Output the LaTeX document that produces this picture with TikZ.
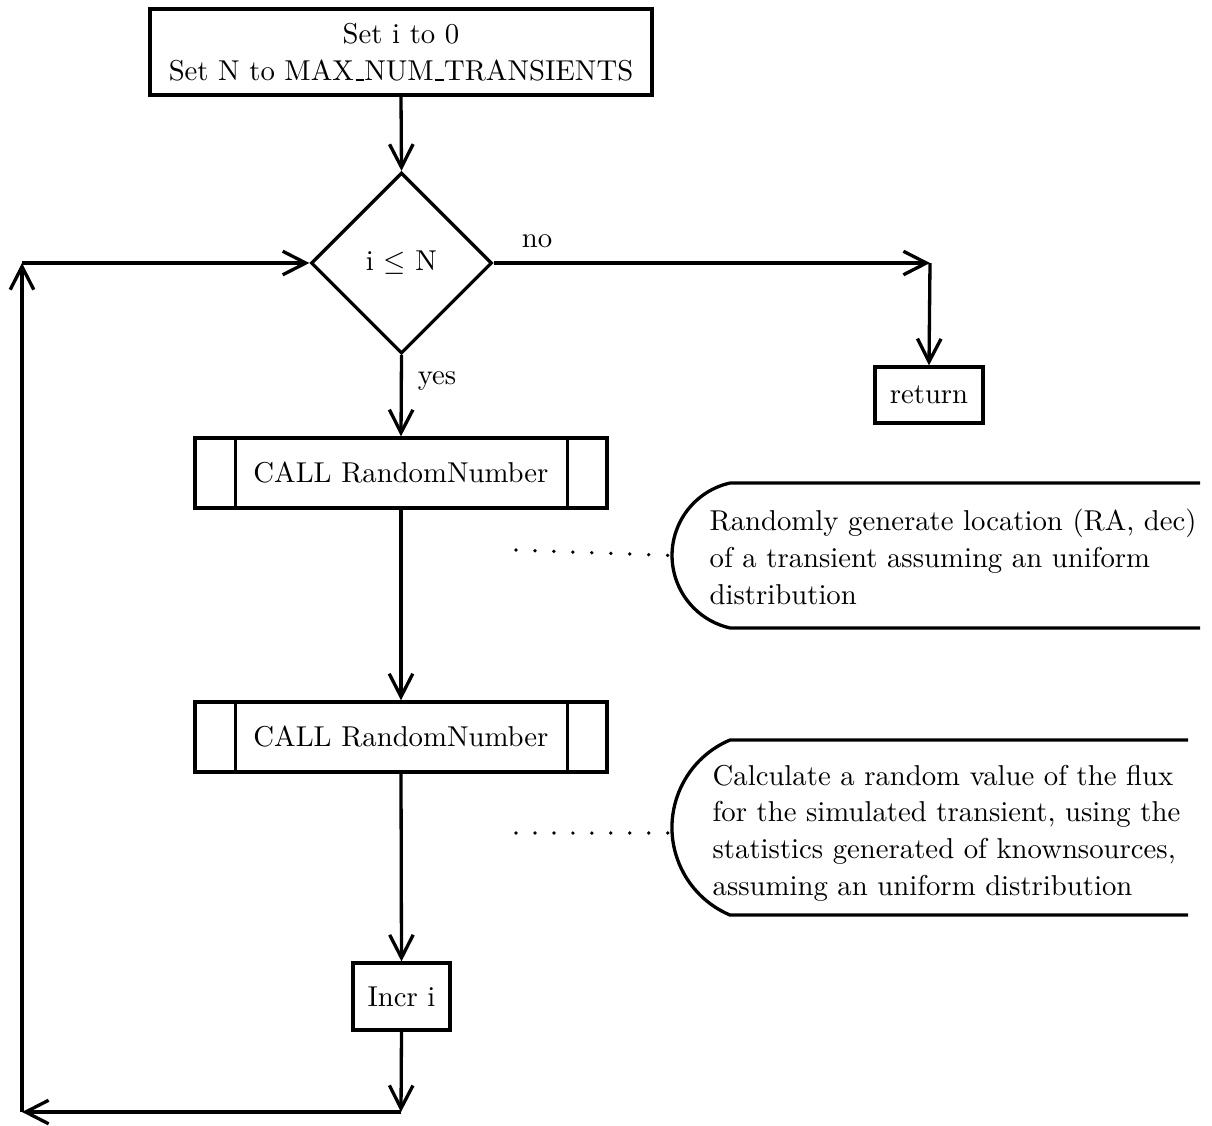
\documentclass[tikz,border=0pt]{standalone}
\usetikzlibrary{arrows.meta,shapes.geometric,calc}
% low rule underscore, as in the classic text fonts
\newcommand{\lowbar}{\leavevmode\kern.06em\vbox{\hrule width.3em}}
\begin{document}
\begin{tikzpicture}[
  x=0.348pt, y=-0.348pt,
  line width=1.15pt,
  every node/.style={font=\normalsize},
  tip/.style={-{Straight Barb[length=8pt,width=8.2pt]}},
  procbox/.style={draw, rectangle, inner sep=0pt, align=center},
  callbox/.style={draw, rectangle, inner sep=0pt, minimum width=143.4pt, minimum height=24.4pt},
  decision/.style={draw, diamond, aspect=1, inner sep=0pt, minimum width=63pt, minimum height=63pt},
  dotline/.style={line width=1.3pt, line cap=round, dash pattern=on 0pt off 6.6pt},
  annot/.style={line width=1.15pt},
  lbl/.style={inner sep=0pt}
]
\useasboundingbox (0,0) rectangle (1212,1125);

% process steps
\node[procbox, minimum width=174.7pt, minimum height=29.9pt] (init) at (401,52)
  {Set i to 0\\[1pt]Set N to MAX\lowbar NUM\lowbar TRANSIENTS};
\node[decision] (test) at (401.5,263) {i $\leq$ N};
\node[procbox, minimum width=37.6pt, minimum height=19.5pt] (ret) at (929,395) {return};
\node[callbox] (callA) at (401,473) {CALL RandomNumber};
\node[callbox] (callB) at (401,737) {CALL RandomNumber};
\node[procbox, minimum width=33.8pt, minimum height=23.3pt] (incr) at (401.5,996.5) {Incr i};

% side bars of the predefined-process boxes
\foreach \b in {callA,callB}{
  \draw ($(\b.north west)+(42,0)$) -- ($(\b.south west)+(42,0)$);
  \draw ($(\b.north east)+(-41,0)$) -- ($(\b.south east)+(-41,0)$);
}

% branch labels
\node[lbl] (nolbl) at (537,241) {no};
\node[lbl] (yeslbl) at (437,381) {yes};

% routing points
\coordinate (noturn) at (930,263);
\coordinate (loopbot) at (401,1112);
\coordinate (loopbl) at (22,1112);
\coordinate (looptl) at (22,263);

% flow connectors
\draw[tip] (init.south) -- (test.north);
\draw[tip] (test.east) -- (noturn);
\draw[tip] (noturn) -- (ret.north);
\draw[tip] (test.south) -- (callA.north);
\draw[tip] (callA.south) -- (callB.north);
\draw[tip] (callB.south) -- (incr.north);
\draw[tip] (incr.south) -- (loopbot);
\draw[tip] (loopbot) -- (loopbl);
\draw[tip] (loopbl) -- (looptl);
\draw[tip] (looptl) -- (test.west);

% annotation for the first call
\coordinate (annAtop) at (730,483);
\coordinate (annAleft) at (672,555.5);
\draw[annot] (1200,483) -- (annAtop) arc[start angle=-102.7, end angle=-257.3, radius=74.3] -- (1200,628);
\node[lbl, anchor=west, align=left] (annAtext) at (708,557)
  {Randomly generate location (RA, dec)\\[0.8pt]of a transient assuming an uniform\\[0.8pt]distribution};
\coordinate (dotAstart) at (516,550);
\draw[dotline] (dotAstart) -- (annAleft);

% annotation for the second call
\coordinate (annBtop) at (730,740);
\coordinate (annBleft) at (670,827.5);
\draw[annot] (1188,740) -- (annBtop) arc[start angle=-112.9, end angle=-247.1, radius=95] -- (1188,915);
\node[lbl, anchor=west, align=left] (annBtext) at (711,833)
  {Calculate a random value of the flux\\[0.8pt]for the simulated transient, using the\\[0.8pt]statistics generated of knownsources,\\[0.8pt]assuming an uniform distribution};
\coordinate (dotBstart) at (516,833);
\draw[dotline] (dotBstart) -- (annBleft |- dotBstart);
\end{tikzpicture}
\end{document}
